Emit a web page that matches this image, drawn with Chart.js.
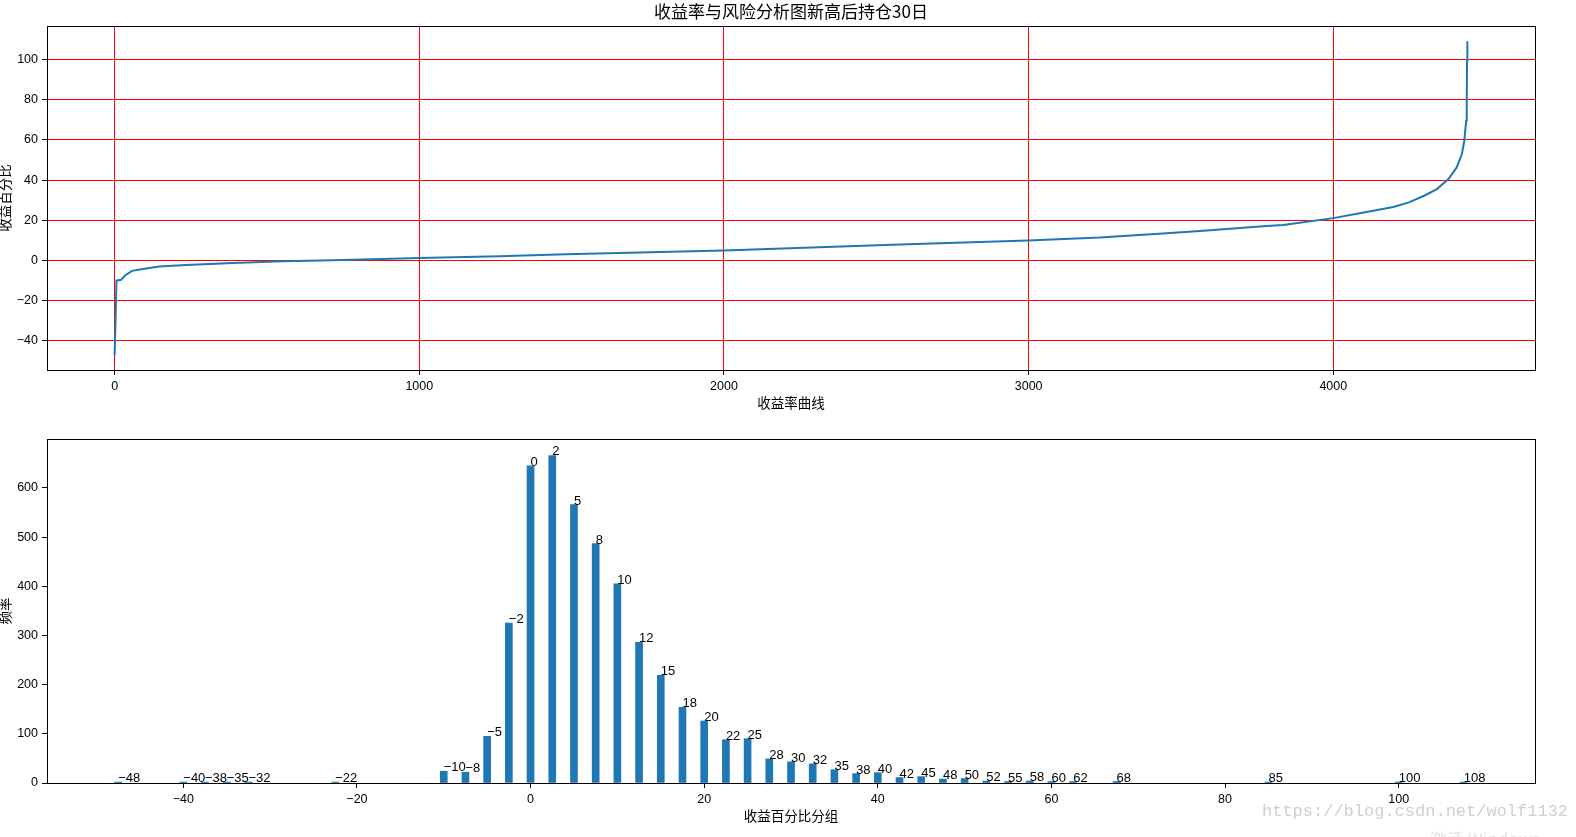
<!DOCTYPE html>
<html>
<head>
<meta charset="utf-8">
<script src="https://cdn.jsdelivr.net/npm/chart.js@4.4.0/dist/chart.umd.min.js"></script>
<style>
  html, body { margin: 0; padding: 0; background: #fff; }
  body { width: 1576px; height: 837px; position: relative; overflow: hidden; }
  canvas { position: absolute; left: 0; }
  #top { top: 0; }
  #bottom { top: 420px; }
  .mark { position: absolute; font-family: "Liberation Mono", "DejaVu Sans Mono", monospace; color: #cfcfcf; white-space: nowrap; }
</style>
</head>
<body>
<canvas id="top" width="1576" height="420"></canvas>
<canvas id="bottom" width="1576" height="417"></canvas>
<div class="mark" style="left:1262px; top:802px; font-size:17px;">https://blog.csdn.net/wolf1132</div>
<div class="mark" style="left:1430px; top:826px; font-size:17px; color:#e4e4e4; font-family:'Noto Sans CJK SC', sans-serif;">激活 Windows</div>
<script>
// sorted return curve (index -> return %)
const curveIdx = [0, 3, 6, 21, 35, 57, 87, 147, 234, 388, 552, 716, 1000, 1263, 1482, 2000,
  2577, 2998, 3234, 3453, 3562, 3781, 3836, 4000, 4100, 4197, 4250, 4300, 4340, 4378, 4405, 4422,
  4430, 4436, 4438, 4439, 4440];
const curveVal = [-47.5, -30, -10.2, -9.8, -7.5, -5.3, -4.5, -3.2, -2.4, -1.4, -0.55, 0, 1.1, 2.0, 3.0, 4.8,
  7.8, 9.8, 11.3, 13.5, 14.6, 17.1, 17.6, 21, 23.8, 26.6, 29, 32.3, 35.5, 40.5, 46.3, 53,
  59.6, 69.6, 79.6, 99.6, 109.3];

// histogram: bin position (%) and count
const binPos = [-47.5, -40, -37.5, -35, -32.5, -22.5, -10, -7.5, -5, -2.5, 0, 2.5, 5, 7.5, 10, 12.5,
  15, 17.5, 20, 22.5, 25, 27.5, 30, 32.5, 35, 37.5, 40, 42.5, 45, 47.5, 50, 52.5, 55, 57.5,
  60, 62.5, 67.5, 85, 100, 107.5];
const binCount = [2, 2, 2, 2, 2, 2, 24, 22, 95, 325, 645, 666, 566, 487, 405, 286,
  219, 154, 126, 88, 90, 49, 43, 39, 27, 19, 21, 11, 13, 8, 9, 4, 3, 4,
  3, 3, 3, 2, 2, 2];

// tick values
const topXTicks = [0, 1000, 2000, 3000, 4000];
const topYTicks = [-40, -20, 0, 20, 40, 60, 80, 100];
const botXTicks = [-40, -20, 0, 20, 40, 60, 80, 100];
const botYTicks = [0, 100, 200, 300, 400, 500, 600];

const FONT = '"Liberation Sans", "Noto Sans CJK SC", sans-serif';
const CJK = '"Noto Sans CJK SC", "Liberation Sans", sans-serif';
const BLUE = '#1f77b4';

const minus = v => String(v).replace('-', '\u2212');

// python-style round (half to even), used for bar labels
function roundEven(v) {
  const f = Math.floor(v);
  if (Math.abs(v - f - 0.5) < 1e-9) return f % 2 === 0 ? f : f + 1;
  return Math.round(v);
}

// black box around plot area + text titles
const frame = {
  id: 'frame',
  afterDraw(chart, args, opts) {
    const { ctx, chartArea: a } = chart;
    ctx.save();
    ctx.strokeStyle = '#000';
    ctx.lineWidth = 1;
    ctx.strokeRect(Math.round(a.left) + 0.5, Math.round(a.top) + 0.5,
      Math.round(a.right - a.left), Math.round(a.bottom - a.top));
    ctx.fillStyle = '#000';
    ctx.textBaseline = 'middle';
    ctx.textAlign = 'center';
    const cx = (a.left + a.right) / 2;
    if (opts.title) {
      ctx.font = '17px ' + CJK;
      ctx.fillText(opts.title, cx, a.top - 14);
    }
    ctx.font = '13.5px ' + CJK;
    ctx.fillText(opts.xTitle, cx, a.bottom + opts.xTitleGap);
    ctx.translate(5, (a.top + a.bottom) / 2);
    ctx.rotate(-Math.PI / 2);
    ctx.fillText(opts.yTitle, 0, 0);
    ctx.restore();
  }
};

const barLabels = {
  id: 'barLabels',
  afterDatasetsDraw(chart) {
    const { ctx, scales } = chart;
    ctx.save();
    ctx.font = '13px ' + FONT;
    ctx.fillStyle = '#000';
    ctx.textAlign = 'left';
    ctx.textBaseline = 'alphabetic';
    binPos.forEach((b, i) => {
      ctx.fillText(minus(roundEven(b)), scales.x.getPixelForValue(b), scales.y.getPixelForValue(binCount[i]));
    });
    ctx.restore();
  }
};

function axis(min, max, tickVals, opts) {
  return Object.assign({
    type: 'linear', min, max, offset: false,
    border: { display: false },
    grid: { color: '#ff0000', lineWidth: 1, tickColor: '#000', tickLength: 5, offset: false },
    afterBuildTicks: s => { s.ticks = tickVals.map(v => ({ value: v })); },
    ticks: { color: '#000', font: { family: FONT, size: 12.5 }, padding: 4,
      maxRotation: 0, autoSkip: false, callback: v => minus(v) }
  }, opts);
}

try {
  new Chart(document.getElementById('top'), {
    type: 'line',
    data: {
      datasets: [{
        data: curveIdx.map((x, i) => ({ x, y: curveVal[i] })),
        borderColor: BLUE, borderWidth: 2, pointRadius: 0, tension: 0, fill: false
      }]
    },
    options: {
      responsive: false, animation: false, events: [],
      layout: { padding: { left: 0, right: 41, top: 26, bottom: 0 } },
      plugins: {
        legend: { display: false }, tooltip: { enabled: false },
        frame: { title: '收益率与风险分析图新高后持仓30日', xTitle: '收益率曲线', yTitle: '收益百分比', xTitleGap: 33 }
      },
      scales: {
        x: axis(-222, 4662, topXTicks, { afterFit: s => { s.height = 50; } }),
        y: axis(-54.8, 116.9, topYTicks, { afterFit: s => { s.width = 47; } })
      }
    },
    plugins: [frame]
  });

  const bx = axis(-55.7, 115.7, botXTicks, { afterFit: s => { s.height = 54; } });
  const by = axis(0, 699.5, botYTicks, { afterFit: s => { s.width = 47; } });
  bx.grid.drawOnChartArea = false;
  by.grid.drawOnChartArea = false;

  new Chart(document.getElementById('bottom'), {
    type: 'bar',
    data: {
      datasets: [{
        data: binPos.map((x, i) => ({ x, y: binCount[i] })),
        backgroundColor: BLUE, barThickness: 7, borderWidth: 0
      }]
    },
    options: {
      responsive: false, animation: false, events: [],
      layout: { padding: { left: 0, right: 41, top: 19, bottom: 0 } },
      plugins: {
        legend: { display: false }, tooltip: { enabled: false },
        frame: { xTitle: '收益百分比分组', yTitle: '频率', xTitleGap: 33 }
      },
      scales: { x: bx, y: by }
    },
    plugins: [frame, barLabels]
  });
} catch (err) {
  console.error('chart setup failed', err);
}
</script>
</body>
</html>
